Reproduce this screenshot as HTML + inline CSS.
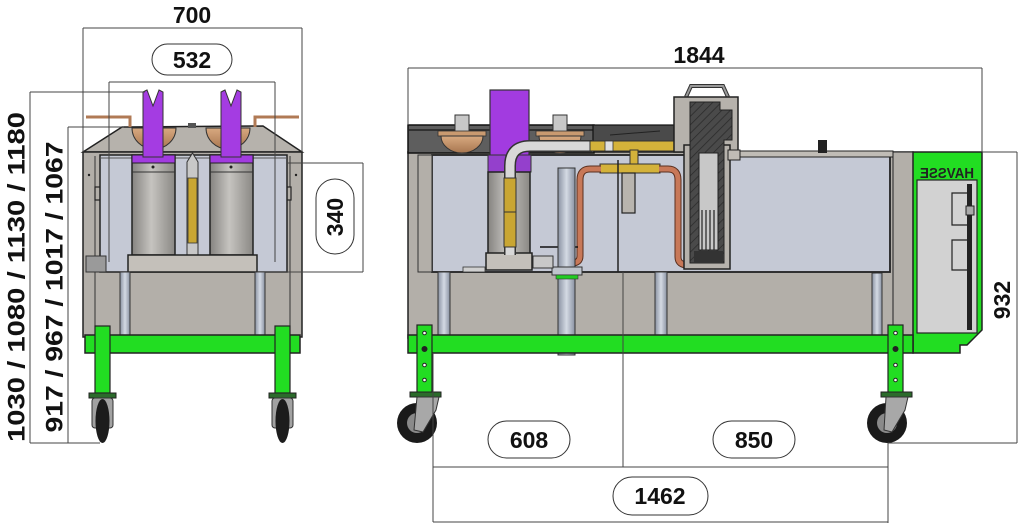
<!DOCTYPE html>
<html><head><meta charset="utf-8"><style>
html,body{margin:0;padding:0;background:#fff;}
svg{display:block;}
text{font-family:"Liberation Sans",sans-serif;font-weight:bold;fill:#111;}
</style></head><body>
<svg width="1023" height="530" viewBox="0 0 1023 530" xmlns="http://www.w3.org/2000/svg">
<defs>
<linearGradient id="cyl" x1="0" x2="1" y1="0" y2="0">
<stop offset="0" stop-color="#858380"/><stop offset="0.45" stop-color="#c6c4c0"/><stop offset="1" stop-color="#8a8884"/></linearGradient>
<linearGradient id="leg" x1="0" x2="1" y1="0" y2="0">
<stop offset="0" stop-color="#8a92a2"/><stop offset="0.5" stop-color="#d4dae4"/><stop offset="1" stop-color="#8a92a2"/></linearGradient>
<linearGradient id="bowl" x1="0" x2="0" y1="0" y2="1">
<stop offset="0" stop-color="#d8a980"/><stop offset="1" stop-color="#a87650"/></linearGradient>
<pattern id="hatch" width="6" height="6" patternUnits="userSpaceOnUse" patternTransform="rotate(45)">
<rect width="6" height="6" fill="#4a4a4a"/><line x1="0" y1="0" x2="0" y2="6" stroke="#2a2a2a" stroke-width="1.5"/></pattern>
</defs>

<!-- ================= LEFT VIEW ================= -->
<!-- body -->
<polygon points="83,152 122,127 263,126 302,152" fill="#b6b2ac" stroke="#222" stroke-width="1.5"/>
<rect x="83" y="152" width="219" height="185" fill="#b3afa9" stroke="#222" stroke-width="1.5"/>
<line x1="95" y1="156" x2="95" y2="337" stroke="#333" stroke-width="1"/>
<line x1="290" y1="156" x2="290" y2="337" stroke="#333" stroke-width="1"/>
<rect x="95" y="187" width="13" height="13" fill="#b3afa9" stroke="#222" stroke-width="1.2"/>
<rect x="278" y="187" width="13" height="13" fill="#b3afa9" stroke="#222" stroke-width="1.2"/>
<circle cx="89" cy="175" r="1.2" fill="#222"/><circle cx="296" cy="175" r="1.2" fill="#222"/>
<!-- bowls -->
<path d="M132 128 A22 21 0 0 0 176 128 Z" fill="url(#bowl)" stroke="#333" stroke-width="1"/>
<path d="M206 128 A22 21 0 0 0 250 128 Z" fill="url(#bowl)" stroke="#333" stroke-width="1"/>
<rect x="188" y="123" width="8" height="5" fill="#555"/>
<!-- copper rods -->
<polyline points="86,117 130,117 130,127" fill="none" stroke="#b07a55" stroke-width="3"/>
<polyline points="299,117 255,117 255,127" fill="none" stroke="#b07a55" stroke-width="3"/>
<!-- tank -->
<rect x="100" y="155" width="187" height="117" fill="#c5c9d5" stroke="#222" stroke-width="1.5"/>
<line x1="100" y1="158" x2="287" y2="158" stroke="#555" stroke-width="1"/>
<!-- cylinders -->
<rect x="132" y="155" width="43" height="100" fill="url(#cyl)" stroke="#222" stroke-width="1.5"/>
<rect x="132" y="155" width="43" height="8" fill="#a23be0" stroke="#222" stroke-width="1"/>
<line x1="132" y1="172" x2="175" y2="172" stroke="#333"/>
<rect x="210" y="155" width="43" height="100" fill="url(#cyl)" stroke="#222" stroke-width="1.5"/>
<rect x="210" y="155" width="43" height="8" fill="#a23be0" stroke="#222" stroke-width="1"/>
<line x1="210" y1="172" x2="253" y2="172" stroke="#333"/>
<circle cx="153" cy="167" r="1.5" fill="#222"/><circle cx="231" cy="167" r="1.5" fill="#222"/>
<!-- purple tubes -->
<polygon points="143,92 147,90 153,106 159,90 163,92 163,157 143,157" fill="#a43ce2" stroke="#333" stroke-width="1"/>
<polygon points="221,92 225,90 231,106 237,90 241,92 241,157 221,157" fill="#a43ce2" stroke="#333" stroke-width="1"/>
<!-- center rod -->
<path d="M187 162 L192.5 153 L198 162 L198 255 L187 255 Z" fill="#c8c8c8" stroke="#333" stroke-width="1"/>
<rect x="188" y="178" width="9" height="65" fill="#c9a632" stroke="#333" stroke-width="0.8"/>
<!-- base plate -->
<rect x="128" y="255" width="129" height="17" fill="#c4c0ba" stroke="#222" stroke-width="1.5"/>
<!-- valve left -->
<rect x="86" y="256" width="20" height="16" fill="#9a9a9a" stroke="#333" stroke-width="1"/>
<!-- legs -->
<rect x="120" y="272" width="10" height="78" fill="url(#leg)" stroke="#333" stroke-width="1"/>
<rect x="255" y="272" width="10" height="78" fill="url(#leg)" stroke="#333" stroke-width="1"/>
<!-- green frame -->
<rect x="85" y="335" width="215" height="18" fill="#22dd22" stroke="#222" stroke-width="1.5"/>
<rect x="95" y="326" width="15" height="67" fill="#22dd22" stroke="#222" stroke-width="1.2"/>
<rect x="275" y="326" width="15" height="67" fill="#22dd22" stroke="#222" stroke-width="1.2"/>
<rect x="89" y="393" width="27" height="5" fill="#2b6b2b" stroke="#222" stroke-width="1"/>
<rect x="269" y="393" width="27" height="5" fill="#2b6b2b" stroke="#222" stroke-width="1"/>
<!-- casters -->
<rect x="92" y="398" width="21" height="30" rx="3" fill="#a2a2a2" stroke="#333"/>
<ellipse cx="102.5" cy="421" rx="7" ry="22" fill="#1c1c1c"/>
<rect x="272" y="398" width="21" height="30" rx="3" fill="#a2a2a2" stroke="#333"/>
<ellipse cx="282.5" cy="421" rx="7" ry="22" fill="#1c1c1c"/>

<!-- left dimensions -->
<g stroke="#444" stroke-width="1" fill="none">
<line x1="83" y1="28" x2="302" y2="28"/>
<line x1="83" y1="28" x2="83" y2="152"/>
<line x1="302" y1="28" x2="302" y2="152"/>
<line x1="109" y1="82" x2="275" y2="82"/>
<line x1="109" y1="82" x2="109" y2="262"/>
<line x1="275" y1="82" x2="275" y2="262"/>
<line x1="363" y1="163" x2="363" y2="272"/>
<line x1="287" y1="163" x2="363" y2="163"/>
<line x1="257" y1="272" x2="363" y2="272"/>
<line x1="30" y1="92" x2="30" y2="443"/>
<line x1="30" y1="92" x2="145" y2="92"/>
<line x1="30" y1="443" x2="100" y2="443"/>
<line x1="68" y1="127" x2="68" y2="443"/>
<line x1="68" y1="127" x2="124" y2="127"/>
</g>
<rect x="152" y="44" width="80" height="31" rx="15.5" fill="#fff" stroke="#333" stroke-width="1"/>
<rect x="316" y="179" width="38" height="75" rx="19" fill="#fff" stroke="#333" stroke-width="1"/>
<text x="192" y="23" font-size="23" text-anchor="middle">700</text>
<text x="192" y="68" font-size="23" text-anchor="middle">532</text>
<text transform="translate(335,217) rotate(-90)" x="0" y="8" font-size="23" text-anchor="middle">340</text>
<text transform="translate(16,277) rotate(-90)" x="0" y="8.5" font-size="24" text-anchor="middle" textLength="330" lengthAdjust="spacingAndGlyphs">1030 / 1080 / 1130 / 1180</text>
<text transform="translate(54,287) rotate(-90)" x="0" y="8.5" font-size="24" text-anchor="middle" textLength="291" lengthAdjust="spacingAndGlyphs">917 / 967 / 1017 / 1067</text>

<!-- ================= RIGHT VIEW ================= -->
<!-- body -->
<rect x="408" y="152" width="505" height="186" fill="#b3afa9" stroke="#222" stroke-width="1.5"/>
<!-- top dark band -->
<rect x="408" y="125" width="186" height="28" fill="#5e5e5e" stroke="#111" stroke-width="1.5"/>
<line x1="408" y1="130" x2="594" y2="130" stroke="#222" stroke-width="1.5"/>
<rect x="593" y="125" width="81" height="17" fill="#4a4a4a" stroke="#111" stroke-width="1.2"/>
<line x1="610" y1="135" x2="660" y2="131" stroke="#222"/>
<!-- bowl brackets -->
<rect x="455" y="115" width="14" height="17" fill="#c8c8c8" stroke="#333"/>
<rect x="553" y="115" width="14" height="17" fill="#c8c8c8" stroke="#333"/>
<!-- bowls -->
<rect x="438" y="131" width="48" height="5" fill="#c99a70" stroke="#333" stroke-width="0.8"/>
<rect x="536" y="131" width="48" height="5" fill="#c99a70" stroke="#333" stroke-width="0.8"/>
<path d="M441 136 A21 17 0 0 0 483 136 Z" fill="url(#bowl)" stroke="#333" stroke-width="1"/>
<path d="M539 136 A21 17 0 0 0 581 136 Z" fill="url(#bowl)" stroke="#333" stroke-width="1"/>
<!-- tank -->
<rect x="432" y="155" width="458" height="117" fill="#c5c9d5" stroke="#222" stroke-width="1.8"/>
<rect x="738" y="151" width="155" height="6" fill="#c0bcb6" stroke="#222" stroke-width="1"/>
<rect x="418" y="155" width="14" height="117" fill="#b3afa9" stroke="#333" stroke-width="1"/>
<rect x="893" y="152" width="20" height="186" fill="#b3afa9" stroke="#222" stroke-width="1"/>
<!-- knob -->
<rect x="818" y="140" width="9" height="13" fill="#222"/>
<!-- purple pump -->
<rect x="490" y="90" width="39" height="67" fill="#a23be0" stroke="#333" stroke-width="1.2"/>
<rect x="488" y="155" width="43" height="17" fill="#9440cc" stroke="#333" stroke-width="1"/>
<rect x="488" y="172" width="42" height="84" fill="url(#cyl)" stroke="#222" stroke-width="1.5"/>
<rect x="486" y="253" width="46" height="17" fill="#c4c0ba" stroke="#222" stroke-width="1.5"/>
<rect x="463" y="267" width="22" height="5" fill="#d0d0d0" stroke="#333" stroke-width="0.8"/>
<!-- silver tube -->
<path d="M592 146 H530 Q510 146 510 166 V255" fill="none" stroke="#333" stroke-width="12"/>
<path d="M592 146 H530 Q510 146 510 166 V255" fill="none" stroke="#d8d8d8" stroke-width="9"/>
<rect x="504" y="178" width="12" height="69" fill="#c9a632" stroke="#333" stroke-width="1"/>
<line x1="504" y1="212" x2="516" y2="212" stroke="#333"/>
<!-- brass manifold -->
<rect x="590" y="141" width="97" height="10" fill="#d4b23a" stroke="#333" stroke-width="1"/>
<rect x="605" y="141" width="8" height="10" fill="#e0e0e0" stroke="#333" stroke-width="0.8"/>
<rect x="630" y="150" width="8" height="16" fill="#d4b23a" stroke="#333" stroke-width="1"/>
<rect x="600" y="164" width="60" height="9" fill="#d4b23a" stroke="#333" stroke-width="1"/>
<!-- copper tubes -->
<path d="M601 169 H590 Q580 169 580 180 V256 Q580 263 572 263" fill="none" stroke="#5a3020" stroke-width="7"/>
<path d="M601 169 H590 Q580 169 580 180 V256 Q580 263 572 263" fill="none" stroke="#c87858" stroke-width="5"/>
<path d="M659 169 H668 Q678 169 678 180 V257 Q678 265 688 265" fill="none" stroke="#5a3020" stroke-width="7"/>
<path d="M659 169 H668 Q678 169 678 180 V257 Q678 265 688 265" fill="none" stroke="#c87858" stroke-width="5"/>
<line x1="540" y1="247" x2="578" y2="247" stroke="#111" stroke-width="1.5"/>
<!-- hanging rect & line -->
<rect x="622" y="173" width="13" height="40" fill="#b8b4ae" stroke="#222" stroke-width="1.2"/>
<line x1="618" y1="160" x2="618" y2="272" stroke="#222" stroke-width="1.5"/>
<!-- big pipe -->
<rect x="558" y="168" width="17" height="187" fill="url(#leg)" stroke="#333" stroke-width="1"/>
<rect x="552" y="267" width="30" height="8" fill="#bfc4cc" stroke="#333" stroke-width="1"/>
<rect x="556" y="275" width="22" height="4" fill="#22cc22" stroke="#333" stroke-width="0.6"/>
<!-- valve -->
<rect x="533" y="256" width="20" height="12" fill="#c8c8c8" stroke="#333" stroke-width="1"/>
<!-- filter housing -->
<path d="M686 97 L691 86 L723 86 L728 97" fill="none" stroke="#333" stroke-width="4"/>
<path d="M686 97 L691 86 L723 86 L728 97" fill="none" stroke="#999" stroke-width="2"/>
<rect x="674" y="97" width="64" height="55" fill="#b6b2ac" stroke="#222" stroke-width="1.5"/>
<rect x="684" y="145" width="46" height="124" fill="#b6b2ac" stroke="#222" stroke-width="1.5"/>
<path d="M690 102 H720 V110 H732 V140 H724 V263 H690 Z" fill="url(#hatch)" stroke="#222" stroke-width="1"/>
<rect x="699" y="153" width="19" height="97" fill="#c8c8c8" stroke="#222" stroke-width="1"/>
<g stroke="#222" stroke-width="1.2">
<line x1="702" y1="210" x2="702" y2="250"/><line x1="706" y1="210" x2="706" y2="250"/>
<line x1="710" y1="210" x2="710" y2="250"/><line x1="714" y1="210" x2="714" y2="250"/>
</g>
<rect x="694" y="251" width="29" height="12" fill="#333"/>
<rect x="728" y="150" width="12" height="10" fill="#c0bcb6" stroke="#222"/>
<!-- legs -->
<rect x="438" y="272" width="12" height="75" fill="url(#leg)" stroke="#333" stroke-width="1"/>
<rect x="655" y="272" width="12" height="75" fill="url(#leg)" stroke="#333" stroke-width="1"/>
<rect x="872" y="273" width="10" height="72" fill="url(#leg)" stroke="#333" stroke-width="1"/>
<!-- green panel + rail -->
<polygon points="913,152 982,152 982,330 967,345 960,345 960,353 913,353" fill="#22dd22" stroke="#222" stroke-width="1.5"/>
<rect x="408" y="335" width="505" height="18" fill="#22dd22" stroke="#222" stroke-width="1.5"/>
<rect x="917" y="180" width="60" height="153" fill="#d2d2d2" stroke="#222" stroke-width="1.2"/>
<rect x="967" y="184" width="5" height="146" fill="#222"/>
<path d="M967 193 H952 V225 H967" fill="none" stroke="#222" stroke-width="1.2"/>
<path d="M967 240 H952 V270 H967" fill="none" stroke="#222" stroke-width="1.2"/>
<rect x="966" y="206" width="8" height="9" fill="#aaa" stroke="#222"/>
<text transform="translate(947,178) scale(-1,1)" x="0" y="0" font-size="15" text-anchor="middle" style="fill:#222" textLength="54" lengthAdjust="spacingAndGlyphs">HAVSSE</text>
<!-- casters right view -->
<rect x="417" y="325" width="15" height="68" fill="#22dd22" stroke="#222" stroke-width="1.2"/>
<rect x="888" y="325" width="15" height="68" fill="#22dd22" stroke="#222" stroke-width="1.2"/>
<g fill="#fff" stroke="#222" stroke-width="1">
<circle cx="424.5" cy="333" r="1.8"/><circle cx="424.5" cy="349" r="2.5" fill="#222"/><circle cx="424.5" cy="365" r="1.8"/><circle cx="424.5" cy="380" r="1.8"/>
<circle cx="895.5" cy="333" r="1.8"/><circle cx="895.5" cy="349" r="2.5" fill="#222"/><circle cx="895.5" cy="365" r="1.8"/><circle cx="895.5" cy="380" r="1.8"/>
</g>
<rect x="410" y="392" width="31" height="5" fill="#2b6b2b" stroke="#222" stroke-width="1"/>
<rect x="881" y="392" width="31" height="5" fill="#2b6b2b" stroke="#222" stroke-width="1"/>
<circle cx="417" cy="423" r="20" fill="#1a1a1a"/>
<circle cx="417" cy="423" r="10" fill="#8a8a8a"/>
<polygon points="417,397 439,397 436,410 423,432 414,430" fill="#a8a8a8" stroke="#333" stroke-width="1"/>
<circle cx="887" cy="423" r="20" fill="#1a1a1a"/>
<circle cx="887" cy="423" r="10" fill="#8a8a8a"/>
<polygon points="886,397 908,397 905,410 892,432 884,430" fill="#a8a8a8" stroke="#333" stroke-width="1"/>

<!-- right dimensions -->
<g stroke="#444" stroke-width="1" fill="none">
<line x1="408" y1="68" x2="982" y2="68"/>
<line x1="408" y1="68" x2="408" y2="125"/>
<line x1="982" y1="68" x2="982" y2="152"/>
<line x1="1017" y1="152" x2="1017" y2="443"/>
<line x1="982" y1="152" x2="1017" y2="152"/>
<line x1="888" y1="443" x2="1017" y2="443"/>
<line x1="433" y1="467" x2="888" y2="467"/>
<line x1="433" y1="522" x2="888" y2="522"/>
<line x1="433" y1="353" x2="433" y2="522"/>
<line x1="888" y1="443" x2="888" y2="523"/>
<line x1="623" y1="272" x2="623" y2="467"/>
</g>
<rect x="488" y="421" width="82" height="37" rx="18.5" fill="#fff" stroke="#333" stroke-width="1"/>
<rect x="713" y="421" width="82" height="37" rx="18.5" fill="#fff" stroke="#333" stroke-width="1"/>
<rect x="613" y="477" width="95" height="38" rx="19" fill="#fff" stroke="#333" stroke-width="1"/>
<text x="699" y="63" font-size="23" text-anchor="middle">1844</text>
<text x="529" y="448" font-size="23" text-anchor="middle">608</text>
<text x="754" y="448" font-size="23" text-anchor="middle">850</text>
<text x="660" y="504" font-size="23" text-anchor="middle">1462</text>
<text transform="translate(1002,300) rotate(-90)" x="0" y="8" font-size="23" text-anchor="middle">932</text>
</svg>
</body></html>
